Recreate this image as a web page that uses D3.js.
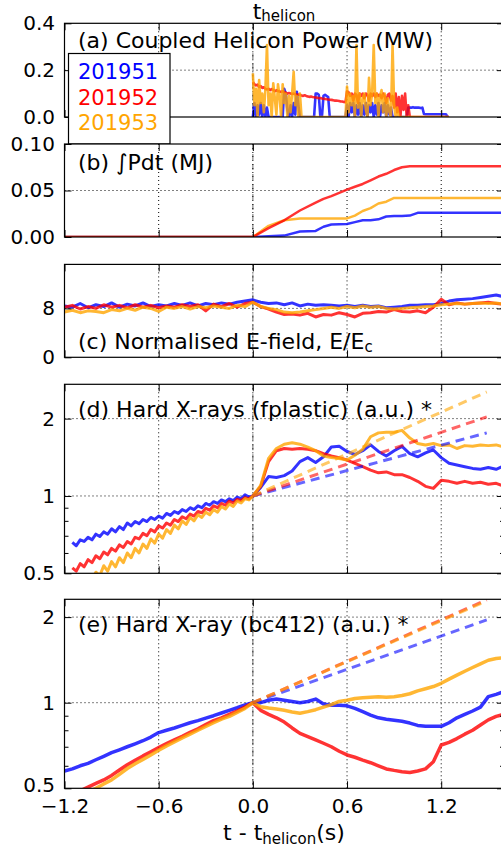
<!DOCTYPE html>
<html><head><meta charset="utf-8">
<script src="https://cdn.jsdelivr.net/npm/d3@7"></script>
<style>body{margin:0;background:#fff}svg{display:block;font-family:"DejaVu Sans",sans-serif}</style>
</head><body><svg id="c" width="501" height="852"></svg>
<script>
// ---------------- DATA ----------------
const shots = ["201951", "201952", "201953"];
const xTickVals = [-1.2, -0.6, 0, 0.6, 1.2];

// (a) coupled helicon power (MW), t = 0.00 .. 1.25 step 0.01
const aT = d3.range(126).map(i => +(i * 0.01).toFixed(2));
const aBlue = [0,0.06,0,0.05,0.01,0.06,0,0.05,0,0.04,
  0,0,0,0,0,0,0,0,0,0,
  0.12,0.1,0.03,0,0.05,0,0.06,0.01,0.108,0.05,
  0,0,0,0,0,0,0,0,0,0,
  0.1,0.1,0.095,0,0,0.09,0.095,0.09,0.085,0,
  0,0,0,0,0,0,0,0,0,0,
  0.05,0,0.06,0.02,0.06,0,0.05,0.01,0.06,0,
  0.05,0.01,0.06,0,0.05,0.02,0.06,0,0.05,0.01,
  0.06,0,0.05,0.02,0.06,0,0.05,0.01,0.04,0,
  0,0,0,0,0,0,0,0,0,0.04,
  0.04,0.04,0.042,0.04,0.04,0.04,0.04,0.038,0.04,0.013,
  0.012,0.012,0.012,0.012,0.012,0.012,0.012,0.012,0.012,0.012,
  0.012,0.012,0.012,0.012,0,0];
const aRed = [0.15,0.14,0.135,0.138,0.128,0.132,0.124,0.127,0.12,0.118,
  0.12,0.115,0.119,0.116,0.11,0.114,0.111,0.109,0.107,0.11,
  0.105,0.104,0.1,0.102,0.1,0.098,0.1,0.097,0.095,0.096,
  0.094,0.092,0.09,0.093,0.09,0.088,0.086,0.087,0.085,0.084,
  0.083,0.082,0.08,0.081,0.079,0.078,0.077,0.076,0.075,0.074,
  0.073,0.072,0.07,0.07,0.069,0.068,0.066,0.066,0.064,0.063,
  0.11,0.105,0.09,0.1,0.07,0.1,0.095,0.06,0.1,0.09,
  0.1,0.08,0.1,0.095,0.07,0.1,0.09,0.1,0.085,0.1,
  0.09,0.095,0.08,0.1,0.09,0.06,0.095,0.1,0.07,0.09,
  0.04,0.1,0.02,0.085,0,0.09,0.03,0.1,0,0.05,
  0,0,0,0,0,0,0,0,0,0,0,0,0,0,0,0,0,0,0,0,0,0,0,0,0,0];
const aOrange = [0.186,0.05,0.12,0,0.158,0.06,0.1,0.02,0.12,0.307,
  0.05,0.1,0,0.144,0.08,0.01,0.14,0.09,0,0.14,
  0.06,0.1,0,0.09,0.02,0.1,0.193,0.05,0.09,0,
  0.1,0,0,0,0,0,0,0,0,0,
  0,0,0,0,0,0,0,0,0,0,
  0,0,0,0,0,0,0,0,0,0,
  0.13,0.02,0.1,0.05,0.09,0,0.307,0.04,0.1,0,
  0.08,0.1,0.03,0,0.167,0.05,0.1,0.307,0.06,0.1,
  0,0.09,0.115,0.02,0.1,0,0.08,0.02,0,0.307,
  0.05,0,0.04,0,0,0,0,0,0,0,
  0,0,0,0,0,0,0,0,0,0,0,0,0,0,0,0,0,0,0,0,0,0,0,0,0,0];

// (b) integral P dt (MJ)
const bT = [-1.2,0,0.1,0.2,0.3,0.4,0.45,0.5,0.6,0.65,0.7,0.75,0.8,0.85,0.9,0.95,1.0,1.05,1.1,1.6];
const bBlue = [0,0,0.0008,0.0015,0.006,0.0065,0.011,0.0135,0.014,0.016,0.018,0.018,0.019,0.022,0.0225,0.0225,0.023,0.026,0.026,0.026];
const bRed = [0,0,0.0095,0.018,0.0285,0.037,0.041,0.044,0.051,0.054,0.057,0.061,0.065,0.068,0.072,0.075,0.076,0.076,0.076,0.076];
const bOrange = [0,0,0.012,0.018,0.02,0.02,0.02,0.02,0.02,0.023,0.028,0.031,0.036,0.038,0.042,0.042,0.042,0.042,0.042,0.042];

// (c) normalised E-field, t = -1.2 .. 1.6 step 0.05
const cT = d3.range(57).map(i => +(-1.2 + i * 0.05).toFixed(2));
const cBlue = [8.4,8.2,8.8,8.1,8.6,8.3,8.9,8.2,8.7,8.4,8.9,8.3,8.6,8.4,8.8,8.5,8.9,8.4,8.8,8.6,8.9,8.7,9.0,9.2,9.4,
  9.0,8.8,8.9,8.6,8.9,8.4,8.7,8.5,8.6,8.5,8.4,8.5,8.3,8.5,8.3,8.4,8.1,8.2,8.3,8.5,8.5,8.6,8.6,8.8,9.2,9.4,9.5,9.6,9.8,10.0,10.2,9.9];
const cRed = [8.2,8.5,7.9,8.3,8.0,8.6,8.2,8.5,8.1,8.6,8.2,8.5,8.1,8.4,8.2,8.6,8.3,8.6,7.6,8.7,8.3,8.8,8.2,8.8,9.0,
  8.3,7.9,7.4,7.0,7.1,6.9,7.2,6.6,7.0,6.9,7.3,7.0,6.6,7.2,7.3,7.5,7.4,7.8,7.5,7.4,7.6,7.3,8.2,9.5,8.6,8.9,8.7,8.8,8.9,9.0,8.8,8.7];
const cOrange = [7.4,7.7,7.3,7.6,7.5,7.3,7.8,7.6,8.0,7.7,8.2,8.0,7.5,8.2,8.0,8.3,7.9,8.3,8.1,8.4,8.2,8.0,8.5,8.3,9.0,
  8.3,8.0,7.8,7.4,7.3,7.4,7.6,7.8,8.0,8.2,8.0,8.3,8.1,8.4,8.2,8.3,8.0,7.9,8.0,8.1,8.2,8.3,8.4,8.6,8.7,8.8,8.7,8.8,8.9,8.8,8.9,8.7];

// (d) hard X-rays (fplastic): t = -1.15..0 step 0.025, then 0.05..1.6 step 0.05
const dT = d3.range(47).map(i => +(-1.15 + i * 0.025).toFixed(3)).concat(d3.range(32).map(i => +(0.05 + i * 0.05).toFixed(2)));
const dBlue = [0.66,0.64,0.675,0.665,0.69,0.675,0.71,0.695,0.725,0.71,0.745,0.725,0.76,0.74,0.785,0.765,0.795,0.78,0.81,0.795,
  0.825,0.81,0.835,0.82,0.855,0.84,0.87,0.855,0.885,0.87,0.9,0.885,0.915,0.9,0.935,0.92,0.95,0.935,0.965,0.95,
  0.975,0.96,0.99,0.975,1.01,0.99,1.0,
  1.08,1.19,1.18,1.2,1.25,1.36,1.41,1.35,1.42,1.55,1.56,1.49,1.45,1.5,1.58,1.49,1.43,1.5,1.56,1.46,
  1.42,1.47,1.51,1.41,1.34,1.32,1.3,1.28,1.27,1.29,1.27,1.31];
const dRed = [0.525,0.51,0.545,0.53,0.565,0.55,0.585,0.57,0.605,0.59,0.625,0.61,0.645,0.63,0.665,0.65,0.69,0.68,0.715,0.7,
  0.74,0.725,0.765,0.75,0.785,0.77,0.81,0.795,0.83,0.815,0.85,0.835,0.87,0.86,0.895,0.88,0.915,0.9,0.935,0.92,
  0.955,0.94,0.97,0.96,0.985,0.975,1.0,
  1.09,1.36,1.5,1.53,1.52,1.53,1.52,1.5,1.46,1.43,1.41,1.38,1.34,1.3,1.26,1.23,1.24,1.21,1.21,1.18,
  1.14,1.09,1.07,1.15,1.14,1.12,1.14,1.12,1.13,1.11,1.12,1.09];
const dOrange = [0.45,0.44,0.47,0.455,0.485,0.47,0.505,0.49,0.535,0.51,0.555,0.53,0.575,0.55,0.6,0.575,0.625,0.6,0.65,0.625,
  0.68,0.655,0.71,0.685,0.74,0.715,0.77,0.745,0.8,0.775,0.825,0.8,0.845,0.825,0.865,0.845,0.885,0.865,0.91,0.89,
  0.93,0.91,0.955,0.94,0.975,0.965,1.0,
  1.1,1.4,1.53,1.59,1.61,1.59,1.55,1.5,1.43,1.41,1.4,1.38,1.44,1.52,1.7,1.76,1.77,1.77,1.8,1.68,
  1.6,1.58,1.6,1.57,1.58,1.53,1.57,1.56,1.58,1.57,1.58,1.55];
// reference (dashed) growth lines
const refT = [0, 1.49];
const dRefBlue = [1, 1.76], dRefRed = [1, 2.03], dRefOrange = [1, 2.54];

// (e) hard X-ray (bc412), t = -1.2 .. 1.6 step 0.05
const eT = cT;
const eBlue = [0.575,0.585,0.6,0.612,0.63,0.648,0.667,0.683,0.7,0.717,0.735,0.757,0.785,0.8,0.815,0.832,0.85,0.865,0.883,0.9,0.92,0.94,0.96,0.983,1.0,
  1.0,1.02,1.03,1.02,1.01,1.0,1.01,1.03,0.99,0.98,0.98,0.975,0.955,0.93,0.905,0.885,0.875,0.868,0.86,0.848,0.832,0.826,0.826,0.826,0.85,0.885,0.91,0.935,0.965,1.05,1.07,1.095];
const eRed = [0.46,0.47,0.49,0.505,0.52,0.535,0.555,0.58,0.605,0.627,0.65,0.672,0.695,0.718,0.74,0.762,0.787,0.81,0.838,0.865,0.885,0.91,0.935,0.965,1.0,
  0.94,0.91,0.885,0.855,0.815,0.78,0.76,0.74,0.72,0.7,0.675,0.655,0.643,0.628,0.615,0.6,0.585,0.578,0.572,0.568,0.575,0.585,0.62,0.71,0.725,0.748,0.775,0.8,0.835,0.87,0.895,0.91];
const eOrange = [0.44,0.455,0.47,0.485,0.5,0.518,0.535,0.56,0.587,0.61,0.632,0.655,0.68,0.705,0.728,0.752,0.775,0.8,0.825,0.85,0.875,0.895,0.925,0.955,1.0,
  0.968,0.958,0.95,0.94,0.928,0.918,0.93,0.945,0.965,0.985,1.01,1.02,1.035,1.04,1.045,1.05,1.045,1.05,1.06,1.075,1.1,1.12,1.14,1.17,1.21,1.25,1.29,1.33,1.37,1.41,1.43,1.44];
const eRefBlue = [1, 1.955], eRefRed = [1, 2.3], eRefOrange = [1, 2.28];

// ---------------- DRAW ----------------
const COL = {blue: "#0000ff", red: "#ff0000", orange: "#ffa500"};
const FONT = '"DejaVu Sans", sans-serif';
const svg = d3.select("#c");
const x = d3.scaleLinear().domain([-1.2, 1.6]).range([64.5, 504]);
const L = x.range()[0], R = x.range()[1];

function panel(cfg) {
  const {id, top, bottom, y, yTicks, yGrid, yFmt, minor, series, refs, lw, xLabels} = cfg;
  const g = svg.append("g");
  g.append("rect").attr("x", L).attr("y", top).attr("width", R - L).attr("height", bottom - top).attr("fill", "#fff");
  g.append("clipPath").attr("id", "clip" + id).append("rect")
    .attr("x", L).attr("y", top).attr("width", R - L).attr("height", bottom - top);
  const grid = g.append("g").attr("stroke", "#000").attr("stroke-width", 1).attr("stroke-dasharray", "1,3");
  xTickVals.slice(1).forEach(t => grid.append("line").attr("x1", x(t)).attr("x2", x(t)).attr("y1", top).attr("y2", bottom));
  yGrid.forEach(v => grid.append("line").attr("x1", L).attr("x2", R).attr("y1", y(v)).attr("y2", y(v)));
  g.append("line").attr("x1", x(0)).attr("x2", x(0)).attr("y1", top).attr("y2", bottom)
    .attr("stroke", "#000").attr("stroke-opacity", 0.45).attr("stroke-width", 1.3).attr("stroke-dasharray", "6,4");

  const dg = g.append("g").attr("clip-path", `url(#clip${id})`);
  const line = d3.line().x(d => x(d[0])).y(d => y(d[1]));
  series.forEach(s => {
    dg.append("path").datum(s.t.map((t, i) => [t, s.v[i]]))
      .attr("d", line).attr("fill", "none").attr("stroke", COL[s.c]).attr("stroke-opacity", 0.8)
      .attr("stroke-width", lw).attr("stroke-linejoin", "round");
  });
  (refs || []).forEach(s => {
    dg.append("path").datum(s.t.map((t, i) => [t, s.v[i]]))
      .attr("d", line).attr("fill", "none").attr("stroke", COL[s.c]).attr("stroke-opacity", 0.6)
      .attr("stroke-width", 3).attr("stroke-dasharray", "9,6");
  });

  g.append("rect").attr("x", L).attr("y", top).attr("width", R - L).attr("height", bottom - top)
    .attr("fill", "none").attr("stroke", "#000").attr("stroke-width", 1.2);

  const style = a => { a.select(".domain").remove(); a.attr("font-size", 20).attr("font-family", FONT);
    a.selectAll("line").attr("stroke", "#000"); a.selectAll("text").attr("fill", "#000"); };
  const left = g.append("g").attr("transform", `translate(${L},0)`)
    .call(d3.axisLeft(y).tickValues(yTicks).tickFormat(yFmt).tickSize(-7).tickPadding(9.5)).call(style);
  if (xLabels) left.selectAll("text").filter(d => d === yTicks[0]).attr("dy", "0.15em");
  g.append("g").attr("transform", `translate(${R},0)`)
    .call(d3.axisRight(y).tickValues(yTicks).tickFormat("").tickSize(-7)).call(style);
  if (minor) {
    g.append("g").attr("transform", `translate(${L},0)`)
      .call(d3.axisLeft(y).tickValues(minor).tickFormat("").tickSize(-4)).call(style);
    g.append("g").attr("transform", `translate(${R},0)`)
      .call(d3.axisRight(y).tickValues(minor).tickFormat("").tickSize(-4)).call(style);
  }
  g.append("g").attr("transform", `translate(0,${top})`)
    .call(d3.axisTop(x).tickValues(xTickVals).tickFormat("").tickSize(-7)).call(style);
  g.append("g").attr("transform", `translate(0,${bottom})`)
    .call(d3.axisBottom(x).tickValues(xTickVals).tickFormat(xLabels ? d3.format(".1f") : "").tickSize(-7).tickPadding(11)).call(style);
  return g;
}

function title(yb, parts) {
  const t = svg.append("text").attr("x", 78).attr("y", yb).attr("font-family", FONT).attr("font-size", 22).attr("fill", "#000");
  parts.forEach(p => {
    const s = t.append("tspan").text(p.s);
    if (p.sub) s.attr("font-size", 15).attr("dy", 3);
  });
}

const S = (t, b, r, o) => [{t, v: b, c: "blue"}, {t, v: r, c: "red"}, {t, v: o, c: "orange"}];

// top label
const tl = svg.append("text").attr("x", 284).attr("y", 18.5).attr("text-anchor", "middle")
  .attr("font-family", FONT).attr("font-size", 22).attr("fill", "#000");
tl.append("tspan").text("t");
tl.append("tspan").text("helicon").attr("font-size", 15).attr("dy", 2.5);

// (a)
const yA = d3.scaleLinear().domain([0, 0.4]).range([117, 23.3]);
panel({id: "a", top: 23.3, bottom: 117, y: yA, yTicks: [0, 0.2, 0.4], yGrid: [0.2], yFmt: d3.format(".1f"),
  series: S(aT, aBlue, aRed, aOrange), lw: 2.6});
title(47.5, [{s: "(a) Coupled Helicon Power (MW)"}]);

// legend
svg.append("rect").attr("x", 68.5).attr("y", 53.5).attr("width", 101.5).attr("height", 90.5)
  .attr("fill", "#fff").attr("stroke", "#000").attr("stroke-width", 1.2);
shots.forEach((s, i) => svg.append("text").attr("x", 78).attr("y", 79 + i * 25.5)
  .attr("font-family", FONT).attr("font-size", 21).attr("fill", ["#0000ff", "#ff0000", "#ffa500"][i]).text(s));

// (b)
const yB = d3.scaleLinear().domain([0, 0.1]).range([237, 144]);
panel({id: "b", top: 144, bottom: 237, y: yB, yTicks: [0, 0.05, 0.1], yGrid: [0.05], yFmt: d3.format(".2f"),
  series: [{t: bT, v: bBlue, c: "blue"}, {t: bT, v: bOrange, c: "orange"}, {t: bT, v: bRed, c: "red"}], lw: 2.5});
title(170, [{s: "(b) ∫Pdt (MJ)"}]);

// (c)
const yC = d3.scaleLinear().domain([0, 15.2]).range([357.3, 264.4]);
panel({id: "c", top: 264.4, bottom: 357.3, y: yC, yTicks: [0, 8], yGrid: [8], yFmt: d3.format("d"),
  series: S(cT, cBlue, cRed, cOrange), lw: 3});
title(349.3, [{s: "(c) Normalised E-field, E/E"}, {s: "c", sub: true}]);

// (d)
const yD = d3.scaleLog().domain([0.5, 2.72]).range([573.3, 384.3]);
panel({id: "d", top: 384.3, bottom: 573.3, y: yD, yTicks: [0.5, 1, 2], yGrid: [1, 2], yFmt: d3.format("~g"),
  minor: [0.6, 0.7, 0.8, 0.9], series: S(dT, dBlue, dRed, dOrange), lw: 3,
  refs: [{t: refT, v: dRefBlue, c: "blue"}, {t: refT, v: dRefRed, c: "red"}, {t: refT, v: dRefOrange, c: "orange"}]});
title(417, [{s: "(d) Hard X-rays (fplastic) (a.u.) *"}]);

// (e)
const yE = d3.scaleLog().domain([0.5, 2.31]).range([788.3, 599.3]);
panel({id: "e", top: 599.3, bottom: 788.3, y: yE, yTicks: [0.5, 1, 2], yGrid: [1, 2], yFmt: d3.format("~g"),
  minor: [0.6, 0.7, 0.8, 0.9], series: S(eT, eBlue, eRed, eOrange), lw: 3.5, xLabels: true,
  refs: [{t: refT, v: eRefBlue, c: "blue"}, {t: refT, v: eRefRed, c: "red"}, {t: refT, v: eRefOrange, c: "orange"}]});
title(631.7, [{s: "(e) Hard X-ray (bc412) (a.u.) *"}]);

// x label
const xl = svg.append("text").attr("x", 284).attr("y", 840).attr("text-anchor", "middle")
  .attr("font-family", FONT).attr("font-size", 22).attr("fill", "#000");
xl.append("tspan").text("t - t");
xl.append("tspan").text("helicon").attr("font-size", 15).attr("dy", 4);
xl.append("tspan").text("(s)").attr("dy", -4);
</script></body></html>
